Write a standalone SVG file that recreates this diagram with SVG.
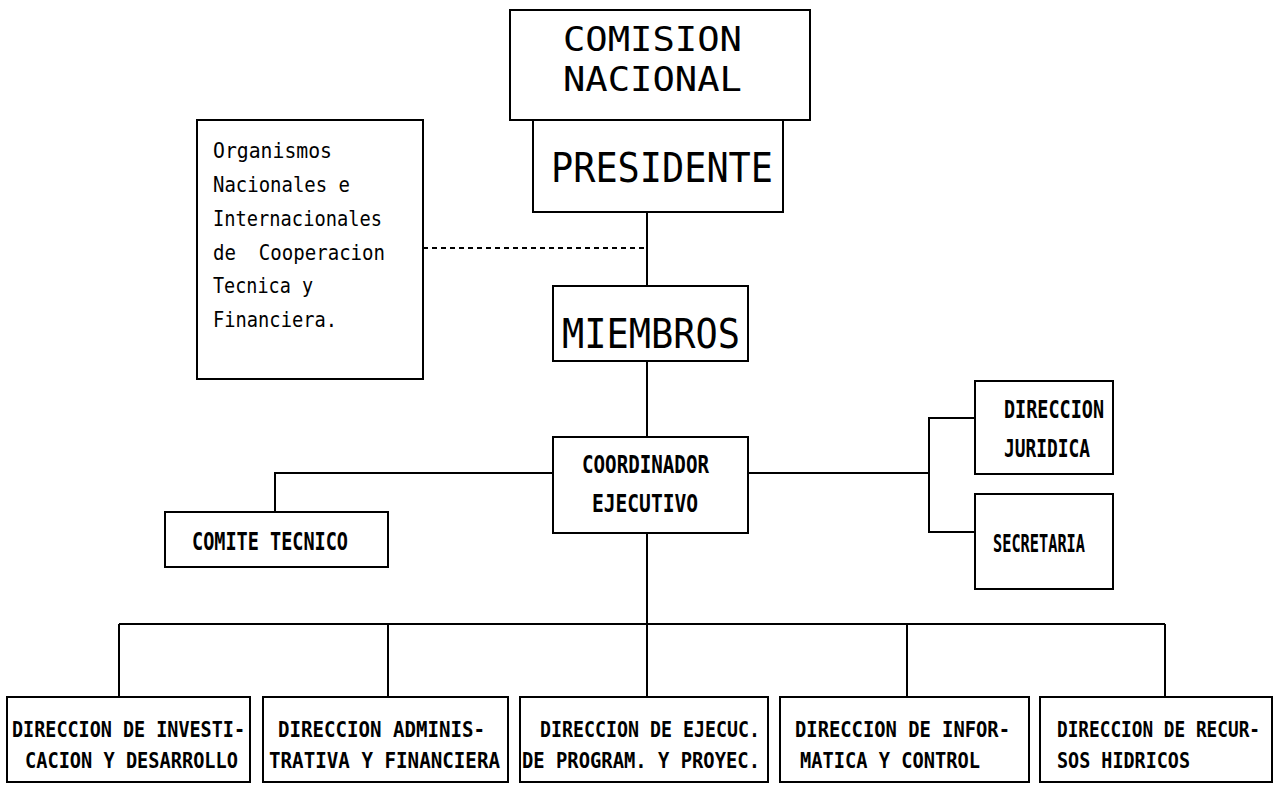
<svg xmlns="http://www.w3.org/2000/svg" width="1274" height="785" viewBox="0 0 1274 785">
<style>
.box{fill:#fff;stroke:#000;stroke-width:2}
.ln{fill:none;stroke:#000;stroke-width:2}
.dash{fill:none;stroke:#000;stroke-width:2;stroke-dasharray:5 4}
text{font-family:"DejaVu Sans Mono","Liberation Mono",monospace;fill:#000}
.big{font-size:41px}
.big2{font-size:33px}
.mid{font-size:24px;font-weight:bold}
.sm{font-size:21px}
.bt{font-size:22px;font-weight:bold}
.bt2{font-size:18px;font-weight:bold}
</style>
<rect width="1274" height="785" fill="#fff"/>
<g id="connectors">
<line class="ln" x1="647" y1="212" x2="647" y2="286"/>
<line class="dash" x1="423" y1="248" x2="647" y2="248"/>
<line class="ln" x1="647" y1="361" x2="647" y2="437"/>
<polyline class="ln" points="553,473 275,473 275,512"/>
<line class="ln" x1="748" y1="473" x2="929" y2="473"/>
<polyline class="ln" points="975,418 929,418 929,532 975,532"/>
<line class="ln" x1="647" y1="533" x2="647" y2="697"/>
<line class="ln" x1="119" y1="624" x2="1165" y2="624"/>
<line class="ln" x1="119" y1="624" x2="119" y2="697"/>
<line class="ln" x1="388" y1="624" x2="388" y2="697"/>
<line class="ln" x1="907" y1="624" x2="907" y2="697"/>
<line class="ln" x1="1165" y1="624" x2="1165" y2="697"/>
</g>
<g id="comision">
<rect class="box" x="510" y="10" width="300" height="110"/>
<text class="big2" x="563" y="51" textLength="179" lengthAdjust="spacingAndGlyphs">COMISION</text>
<text class="big2" x="563" y="91" textLength="179" lengthAdjust="spacingAndGlyphs">NACIONAL</text>
</g>
<g id="presidente">
<rect class="box" x="533" y="120" width="250" height="92"/>
<text class="big" x="551" y="182" textLength="222" lengthAdjust="spacingAndGlyphs">PRESIDENTE</text>
</g>
<g id="organismos">
<rect class="box" x="197" y="120" width="226" height="259"/>
<text class="sm" x="213" y="158" textLength="119" lengthAdjust="spacingAndGlyphs">Organismos</text>
<text class="sm" x="213" y="192" textLength="137" lengthAdjust="spacingAndGlyphs">Nacionales e</text>
<text class="sm" x="213" y="226" textLength="169" lengthAdjust="spacingAndGlyphs">Internacionales</text>
<text class="sm" x="213" y="260" textLength="172" lengthAdjust="spacingAndGlyphs" xml:space="preserve">de  Cooperacion</text>
<text class="sm" x="213" y="293" textLength="100" lengthAdjust="spacingAndGlyphs">Tecnica y</text>
<text class="sm" x="213" y="327" textLength="124" lengthAdjust="spacingAndGlyphs">Financiera.</text>
</g>
<g id="miembros">
<rect class="box" x="553" y="286" width="195" height="75"/>
<text class="big" x="562" y="348" textLength="178" lengthAdjust="spacingAndGlyphs">MIEMBROS</text>
</g>
<g id="coordinador">
<rect class="box" x="553" y="437" width="195" height="96"/>
<text class="mid" x="582" y="473" textLength="127" lengthAdjust="spacingAndGlyphs">COORDINADOR</text>
<text class="mid" x="592" y="512" textLength="106" lengthAdjust="spacingAndGlyphs">EJECUTIVO</text>
</g>
<g id="comite">
<rect class="box" x="165" y="512" width="223" height="55"/>
<text class="mid" x="192" y="550" textLength="156" lengthAdjust="spacingAndGlyphs">COMITE TECNICO</text>
</g>
<g id="juridica">
<rect class="box" x="975" y="381" width="138" height="93"/>
<text class="mid" x="1004" y="418" textLength="100" lengthAdjust="spacingAndGlyphs">DIRECCION</text>
<text class="mid" x="1004" y="457" textLength="86" lengthAdjust="spacingAndGlyphs">JURIDICA</text>
</g>
<g id="secretaria">
<rect class="box" x="975" y="494" width="138" height="95"/>
<text class="mid" x="993" y="552" textLength="92" lengthAdjust="spacingAndGlyphs">SECRETARIA</text>
</g>
<g id="investigacion">
<rect class="box" x="7" y="697" width="243" height="85"/>
<text class="bt" x="12" y="737" textLength="233" lengthAdjust="spacingAndGlyphs">DIRECCION DE INVESTI-</text>
<text class="bt" x="25" y="768" textLength="213" lengthAdjust="spacingAndGlyphs">CACION Y DESARROLLO</text>
</g>
<g id="administrativa">
<rect class="box" x="263" y="697" width="245" height="85"/>
<text class="bt" x="278" y="737" textLength="207" lengthAdjust="spacingAndGlyphs">DIRECCION ADMINIS-</text>
<text class="bt" x="269" y="768" textLength="231" lengthAdjust="spacingAndGlyphs">TRATIVA Y FINANCIERA</text>
</g>
<g id="ejecucion">
<rect class="box" x="520" y="697" width="248" height="85"/>
<text class="bt" x="540" y="737" textLength="220" lengthAdjust="spacingAndGlyphs">DIRECCION DE EJECUC.</text>
<text class="bt" x="522" y="768" textLength="238" lengthAdjust="spacingAndGlyphs">DE PROGRAM. Y PROYEC.</text>
</g>
<g id="informatica">
<rect class="box" x="780" y="697" width="249" height="85"/>
<text class="bt" x="795" y="737" textLength="215" lengthAdjust="spacingAndGlyphs">DIRECCION DE INFOR-</text>
<text class="bt" x="800" y="768" textLength="180" lengthAdjust="spacingAndGlyphs">MATICA Y CONTROL</text>
</g>
<g id="recursos">
<rect class="box" x="1040" y="697" width="232" height="85"/>
<text class="bt2" transform="translate(1057,737) scale(1,1.22)" x="0" y="0" textLength="203" lengthAdjust="spacingAndGlyphs">DIRECCION DE RECUR-</text>
<text class="bt" x="1057" y="768" textLength="133" lengthAdjust="spacingAndGlyphs">SOS HIDRICOS</text>
</g>
</svg>
